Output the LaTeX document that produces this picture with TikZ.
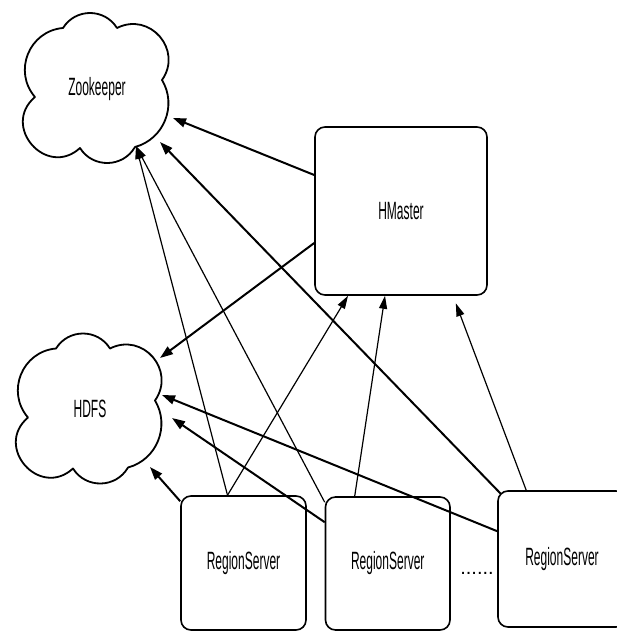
\documentclass[tikz,border=0pt]{standalone}
\usepackage{fontspec}
\newfontfamily\labelfont[FakeStretch=0.48]{Liberation Sans}
\newfontfamily\dotfont{Liberation Sans}
\usetikzlibrary{arrows.meta,calc}

\tikzset{
  serverbox/.style={draw=black, line width=1.6pt, rounded corners=10pt,
    inner sep=0pt, font=\labelfont\fontsize{25}{29}\selectfont},
  cloudtext/.style={inner sep=0pt, font=\labelfont\fontsize{25}{29}\selectfont},
  thickarrow/.style={line width=2pt, -{Triangle[length=13pt,width=9pt]}},
  thinarrow/.style={line width=1.2pt, -{Triangle[length=13pt,width=8pt]}},
  pics/puffcloud/.style={code={
    \draw[line width=1.8pt, line join=round]
      (-63,-9) to[bend left=63,looseness=1.17] (-35,60)
      to[bend left=58,looseness=1.12] (19,60)
      to[bend left=76,looseness=1.37] (64,8)
      to[bend left=53,looseness=1.06] (37,-59)
      to[bend left=59,looseness=1.12] (-18,-60)
      to[bend left=91,looseness=1.7] (-63,-9) -- cycle;
  }}
}

\begin{document}
\begin{tikzpicture}[x=1pt,y=1pt]
  \fill[white] (0,0) rectangle (616,-632);
  \useasboundingbox (0,0) rectangle (616,-632);

  % storage and coordination services
  \pic at (98,-88) {puffcloud};
  \pic at (91,-408.5) {puffcloud};
  \node[cloudtext] (zk) at (97,-89) {Zookeeper};
  \node[cloudtext] (hdfs) at (90,-409) {HDFS};

  % master and region servers
  \node[serverbox, minimum width=172pt, minimum height=168pt] (hm) at (401,-211) {HMaster};
  \node[serverbox, minimum width=125pt, minimum height=134pt] (rs1) at (243.5,-563) {RegionServer};
  \node[serverbox, minimum width=124.5pt, minimum height=133pt] (rs2) at (387.75,-563.5) {RegionServer};
  \node[serverbox, minimum width=128pt, minimum height=136pt] (rs3) at (562,-559) {RegionServer};
  \node[inner sep=0pt, font=\dotfont\fontsize{20}{24}\selectfont] (more) at (477,-573) {......};

  % arrow targets on the cloud outlines
  \coordinate (zkA) at (173,-118);
  \coordinate (zkB) at (160,-142);
  \coordinate (zkC) at (136,-146);
  \coordinate (hdA) at (160,-358);
  \coordinate (hdB) at (162,-395);
  \coordinate (hdC) at (172,-418);
  \coordinate (hdD) at (150,-467);

  % connections to Zookeeper
  \draw[thickarrow] ([yshift=36]hm.west) -- (zkA);
  \draw[thickarrow] ([shift={(4,-4)}]rs3.north west) -- (zkB);
  \draw[thinarrow] ([xshift=-16]rs1.north) -- (zkC);
  \draw[thinarrow] ([yshift=-6]rs2.north west) -- (zkC);

  % connections to HDFS
  \draw[thickarrow] ([yshift=-32]hm.west) -- (hdA);
  \draw[thickarrow] ([yshift=-41]rs3.north west) -- (hdB);
  \draw[thickarrow] ([yshift=-26]rs2.north west) -- (hdC);
  \draw[thickarrow] ([yshift=-6]rs1.north west) -- (hdD);

  % connections to HMaster
  \draw[thinarrow] ([xshift=-16]rs1.north) -- ([xshift=-53]hm.south);
  \draw[thinarrow] ([xshift=30]rs2.north west) -- ([xshift=-16]hm.south);
  \draw[thinarrow, shorten >=8pt] ([xshift=29]rs3.north west) -- ([xshift=52]hm.south);
\end{tikzpicture}
\end{document}
